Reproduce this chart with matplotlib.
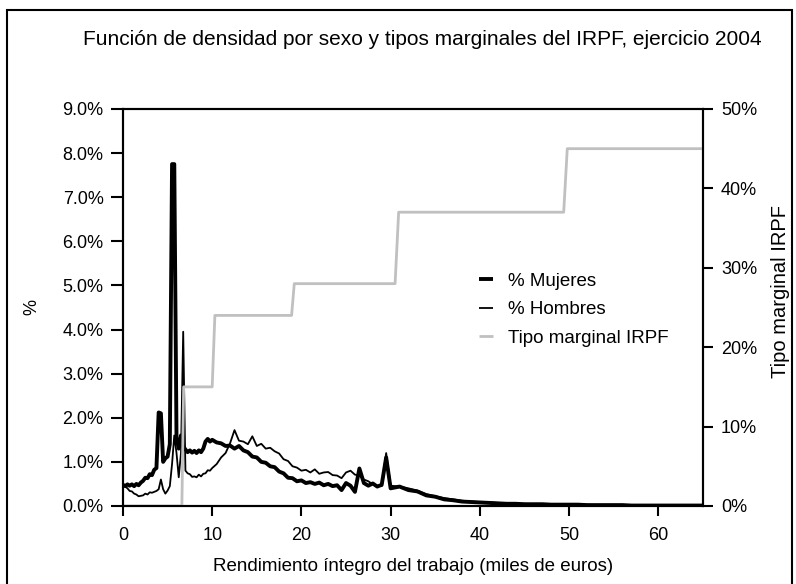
import numpy as np
import matplotlib
matplotlib.use("Agg")
import matplotlib.pyplot as plt
from matplotlib.ticker import FuncFormatter, MultipleLocator
from matplotlib.patches import Rectangle

plt.rcParams['font.family'] = ['Liberation Sans', 'DejaVu Sans']

# renta (miles de euros) at which the densities were read
renta = np.concatenate([np.arange(0, 10.01, 0.25), np.arange(10.5, 30.01, 0.5), np.arange(31, 65.01, 1.0)])

# % Mujeres
mujeres = [
    0.48, 0.45, 0.49, 0.46, 0.49, 0.45, 0.50, 0.47, 0.53, 0.57, 0.64, 0.63, 0.72, 0.70, 0.82, 0.86,
    2.12, 2.10, 1.00, 1.08, 1.12, 1.40, 7.75, 7.75, 1.55, 1.30, 1.60, 1.35, 1.28, 1.22, 1.26, 1.21,
    1.25, 1.20, 1.26, 1.22, 1.30, 1.46, 1.52, 1.46, 1.50,
    1.44, 1.42, 1.36, 1.37, 1.30, 1.36, 1.26, 1.22, 1.12, 1.10, 1.00, 0.98, 0.90, 0.88, 0.78, 0.74,
    0.64, 0.63, 0.56, 0.58, 0.52, 0.54, 0.50, 0.53, 0.47, 0.50, 0.45, 0.47, 0.36, 0.52, 0.46, 0.32,
    0.85, 0.52, 0.46, 0.51, 0.44, 0.48, 1.10, 0.40,
    0.44, 0.36, 0.33, 0.24, 0.21, 0.15, 0.13, 0.10, 0.09, 0.08, 0.07, 0.06, 0.05, 0.05, 0.04, 0.04,
    0.04, 0.03, 0.03, 0.03, 0.03, 0.02, 0.02, 0.02, 0.02, 0.02, 0.01, 0.01, 0.01, 0.01, 0.01, 0.01,
    0.01, 0.01, 0.01,
]

# % Hombres
hombres = [
    0.50, 0.44, 0.40, 0.34, 0.33, 0.28, 0.26, 0.22, 0.23, 0.24, 0.28, 0.26, 0.31, 0.30, 0.32, 0.34,
    0.38, 0.60, 0.38, 0.28, 0.35, 0.45, 0.95, 1.60, 1.20, 0.65, 1.20, 3.95, 0.80, 0.74, 0.72, 0.66,
    0.67, 0.65, 0.71, 0.67, 0.73, 0.74, 0.81, 0.80, 0.86,
    0.95, 1.10, 1.20, 1.42, 1.72, 1.48, 1.46, 1.40, 1.58, 1.36, 1.41, 1.30, 1.32, 1.24, 1.19, 1.06,
    1.02, 0.90, 0.87, 0.80, 0.82, 0.76, 0.83, 0.73, 0.76, 0.77, 0.70, 0.69, 0.63, 0.76, 0.80, 0.71,
    0.69, 0.60, 0.56, 0.49, 0.46, 0.45, 1.20, 0.46,
    0.44, 0.40, 0.35, 0.27, 0.22, 0.18, 0.15, 0.12, 0.10, 0.09, 0.08, 0.07, 0.06, 0.05, 0.05, 0.04,
    0.04, 0.04, 0.03, 0.03, 0.03, 0.03, 0.02, 0.02, 0.02, 0.02, 0.02, 0.01, 0.01, 0.01, 0.01, 0.01,
    0.01, 0.01, 0.01,
]

# tipo marginal IRPF (%)
tramo_x = [0, 6.6, 6.8, 10.0, 10.3, 18.9, 19.2, 30.5, 30.9, 49.4, 49.8, 65]
tramo_tipo = [0, 0, 15, 15, 24, 24, 28, 28, 37, 37, 45, 45]

fig = plt.figure(figsize=(7.96, 5.84), dpi=100)
ax = fig.add_axes([0.1545, 0.1336, 0.7285, 0.6798])
ax2 = ax.twinx()

l1, = ax.plot(renta, np.array(mujeres) / 100, color='black', lw=2.8, label='% Mujeres',
              solid_capstyle='butt')
l2, = ax.plot(renta, np.array(hombres) / 100, color='black', lw=1.3, label='% Hombres',
              solid_capstyle='butt')
l3, = ax2.plot(tramo_x, np.array(tramo_tipo) / 100, color='#c0c0c0', lw=2.0, label='Tipo marginal IRPF',
               solid_capstyle='butt')

ax.set_xlim(0, 65)
ax.set_ylim(0, 0.09)
ax2.set_ylim(0, 0.5)
ax.xaxis.set_major_locator(MultipleLocator(10))
ax.yaxis.set_major_locator(MultipleLocator(0.01))
ax2.yaxis.set_major_locator(MultipleLocator(0.1))
ax.yaxis.set_major_formatter(FuncFormatter(lambda v, p: f"{v*100:.1f}%"))
ax2.yaxis.set_major_formatter(FuncFormatter(lambda v, p: f"{v*100:.0f}%"))

for a in (ax, ax2):
    for s in a.spines.values():
        s.set_linewidth(1.5)
ax.tick_params(axis='y', direction='out', length=9, width=1.5, labelsize=13, pad=5)
ax.tick_params(axis='x', direction='out', length=7, width=1.5, labelsize=13, pad=8)
ax2.tick_params(axis='y', direction='out', length=7, width=1.5, labelsize=13, pad=6)

ax.set_ylabel('%', fontsize=13, labelpad=16)
ax2.set_ylabel('Tipo marginal IRPF', fontsize=14.5)
ax2.yaxis.set_label_coords(1.118, 0.54)
ax.set_xlabel('Rendimiento íntegro del trabajo (miles de euros)', fontsize=13.5, labelpad=10)

fig.text(0.53, 0.932, 'Función de densidad por sexo y tipos marginales del IRPF, ejercicio 2004',
         ha='center', va='center', fontsize=15)

ax.legend(handles=[l1, l2, l3], loc='upper left', bbox_to_anchor=(0.585, 0.63), frameon=False,
          fontsize=13.5, handlelength=0.75, handletextpad=0.8, labelspacing=0.6)

fig.patches.append(Rectangle((0.009, -0.05), 0.986, 1.033, transform=fig.transFigure,
                             fill=False, edgecolor='black', lw=1.5))

fig.savefig('out.png', dpi=100)
